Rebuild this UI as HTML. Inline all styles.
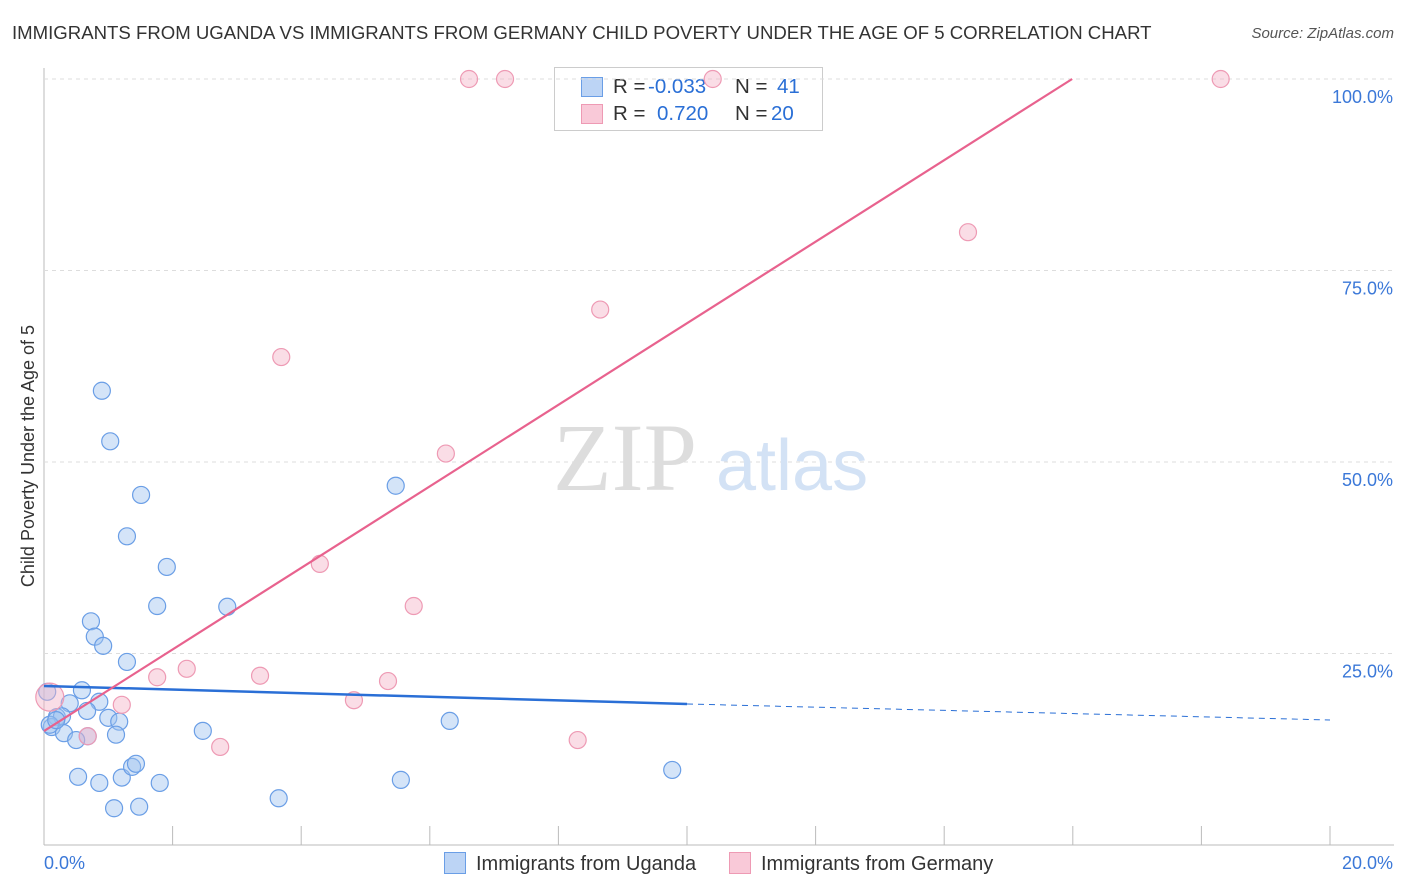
<!DOCTYPE html>
<html><head><meta charset="utf-8"><style>
body{margin:0;background:#fff;font-family:"Liberation Sans",sans-serif;}
#wrap{position:relative;width:1406px;height:892px;overflow:hidden;}
.t{position:absolute;white-space:nowrap;}
</style></head><body>
<div id="wrap">
<div class="t" style="left:12px;top:22px;font-size:18.6px;color:#333;">IMMIGRANTS FROM UGANDA VS IMMIGRANTS FROM GERMANY CHILD POVERTY UNDER THE AGE OF 5 CORRELATION CHART</div>
<div class="t" style="right:12px;top:25px;font-size:15px;color:#555;font-style:italic;">Source: ZipAtlas.com</div>
<div class="t" style="left:554px;top:67px;width:267px;height:62px;border:1px solid #ccc;background:#fff;font-size:20.5px;">
 <div style="position:absolute;left:26px;top:7px;"><span style="display:inline-block;width:20px;height:18px;background:#bcd4f5;border:1px solid #6a9ee6;position:absolute;left:0;top:2px"></span><span style="position:absolute;left:32px;color:#333">R =</span><span style="position:absolute;left:67px;color:#2a6fd6">-0.033</span><span style="position:absolute;left:154px;color:#333">N =</span><span style="position:absolute;left:196px;color:#2a6fd6">41</span></div>
 <div style="position:absolute;left:26px;top:34px;"><span style="display:inline-block;width:20px;height:18px;background:#f9c9d8;border:1px solid #ee9ab4;position:absolute;left:0;top:2px"></span><span style="position:absolute;left:32px;color:#333">R =</span><span style="position:absolute;left:76px;color:#2a6fd6">0.720</span><span style="position:absolute;left:154px;color:#333">N =</span><span style="position:absolute;left:190px;color:#2a6fd6">20</span></div>
</div>
<svg id="svg" width="1406" height="892" style="position:absolute;left:0;top:0"></svg>
</div>
<script>
const xTickLabels=["0.0%","20.0%"];
const yTicks=[25,50,75,100];
const ugandaX=[0.90,1.03,1.51,1.29,1.91,1.76,2.85,0.73,0.79,0.92,1.29,0.59,0.05,0.40,0.86,0.67,0.20,0.28,1.00,1.17,0.12,0.31,1.12,0.68,0.50,2.47,5.47,6.31,0.53,0.86,1.21,1.37,1.43,1.80,1.09,1.48,3.65,5.55,9.77,0.09,0.19];
const ugandaY=[59.3,52.7,45.7,40.3,36.3,31.2,31.1,29.2,27.2,26.0,23.9,20.2,20.0,18.5,18.7,17.5,16.7,16.8,16.6,16.1,15.4,14.6,14.4,14.2,13.7,14.9,46.9,16.2,8.9,8.1,8.8,10.2,10.6,8.1,4.8,5.0,6.1,8.5,9.8,15.7,16.3];
const germanyX=[6.61,7.17,10.40,18.30,14.37,8.65,3.69,6.25,4.29,5.75,2.22,1.76,3.36,5.35,4.82,1.21,0.68,2.74,8.30,0.09];
const germanyY=[100,100,100,100,80.0,69.9,63.7,51.1,36.7,31.2,23.0,21.9,22.1,21.4,18.9,18.3,14.2,12.8,13.7,19.3];
const ugandaTrend=[20.76,18.41,16.32];
const germanyTrend=[14.88,100];
const germanyTrendSlope=(100-14.88)/15.99;

const X0=44,X1=1330,Y0=845,Y100=79;
const xs=v=>X0+(v/20)*(X1-X0);
const ys=v=>Y0-(v/100)*(Y0-Y100);
const svg=document.getElementById('svg');
const NS='http://www.w3.org/2000/svg';
function mk(tag,attrs,parent){const e=document.createElementNS(NS,tag);for(const k in attrs)e.setAttribute(k,attrs[k]);(parent||svg).appendChild(e);return e;}

let ax=mk('line',{x1:44,y1:68,x2:44,y2:845,stroke:'#bbb','stroke-width':1});


let bx=mk('line',{x1:44,y1:845,x2:1394,y2:845,stroke:'#bbb','stroke-width':1});


for(let i=0;i<=10;i++){const x=xs(i*2);
 const t=mk('line',{x1:x,y1:826,x2:x,y2:845,stroke:'#bbb','stroke-width':1});
 
 }
yTicks.forEach(v=>{const y=ys(v);
 const g=mk('line',{x1:44,y1:y,x2:1394,y2:y,stroke:'#ddd','stroke-width':1,'stroke-dasharray':'4 4'});
 
 
 const tx=mk('text',{x:1393,y:y+24,'text-anchor':'end','font-size':18,fill:'#3b78d8','font-family':'Liberation Sans, sans-serif'});
 tx.textContent=v.toFixed(1)+'%';
 
 });
[[0,44,'start'],[1,1393,'end']].forEach(([i,x,a])=>{
 const tx=mk('text',{x:x,y:869,'text-anchor':a,'font-size':18,fill:'#3b78d8','font-family':'Liberation Sans, sans-serif'});
 tx.textContent=xTickLabels[i];
 
 });
let yt=mk('text',{x:34,y:456,'text-anchor':'middle','font-size':18,fill:'#333',transform:'rotate(-90 34 456)','font-family':'Liberation Sans, sans-serif'});
yt.textContent='Child Poverty Under the Age of 5';



let wm=mk('text',{x:553,y:490,'font-size':96,fill:'#ddd','font-family':'Liberation Serif, serif'});
wm.textContent='ZIP';


let wm2=mk('text',{x:716,y:490,'font-size':72,fill:'#d3e2f5','font-family':'Liberation Sans, sans-serif'});
wm2.textContent='atlas';



ugandaX.forEach((v,i)=>{const c=mk('circle',{cx:xs(v),cy:ys(ugandaY[i]),r:8.5,fill:'rgba(160,195,240,0.45)',stroke:'#6a9ee6','stroke-width':1.2});
 
 });
germanyX.forEach((v,i)=>{const c=mk('circle',{cx:xs(v),cy:ys(germanyY[i]),r:i===germanyX.length-1?14:8.5,fill:'rgba(245,180,200,0.45)',stroke:'#ee9ab4','stroke-width':1.2});
 
 });

let tu=mk('line',{x1:xs(0),y1:ys(ugandaTrend[0]),x2:xs(10),y2:ys(ugandaTrend[1]),stroke:'#2a6fd6','stroke-width':2.5});


let tud=mk('line',{x1:xs(10),y1:ys(ugandaTrend[1]),x2:xs(20),y2:ys(ugandaTrend[2]),stroke:'#2a6fd6','stroke-width':1,'stroke-dasharray':'6 5'});


let tg=mk('line',{x1:xs(0),y1:ys(germanyTrend[0]),x2:xs((germanyTrend[1]-germanyTrend[0])/germanyTrendSlope),y2:ys(germanyTrend[1]),stroke:'#e8628e','stroke-width':2.2});


</script>
<div class="t" style="left:444px;top:852px;font-size:20px;color:#333;"><span style="display:inline-block;width:20px;height:20px;background:#bcd4f5;border:1px solid #6a9ee6;vertical-align:-4px;margin-right:10px"></span>Immigrants from Uganda</div>
<div class="t" style="left:729px;top:852px;font-size:20px;color:#333;"><span style="display:inline-block;width:20px;height:20px;background:#f9c9d8;border:1px solid #ee9ab4;vertical-align:-4px;margin-right:10px"></span>Immigrants from Germany</div>
</body></html>
